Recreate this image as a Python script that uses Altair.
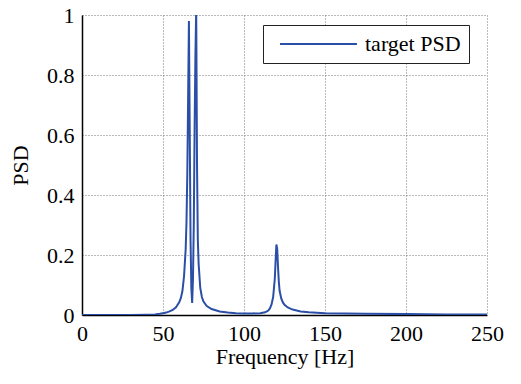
import altair as alt
import pandas as pd

freq = [0, 30, 40, 45, 48, 50, 52, 54, 56, 58, 60, 61, 62, 63, 64, 64.5, 65, 65.5,
        66, 66.5, 67, 67.5, 68, 68.5, 69, 69.5, 70, 70.5, 71, 71.5, 72, 73, 74, 75,
        77, 80, 85, 90, 95, 100, 105, 110, 113, 115, 116, 117, 118, 119, 119.5, 120,
        120.5, 121, 121.5, 122, 123, 124, 125, 127, 130, 135, 140, 150, 175, 200, 225, 250]
psd = [0, 0, 0.001, 0.002, 0.004, 0.006, 0.008, 0.012, 0.017, 0.026, 0.042, 0.056, 0.08,
       0.13, 0.22, 0.31, 0.47, 0.72, 0.98, 0.62, 0.25, 0.09, 0.04, 0.12, 0.3, 0.62, 0.86,
       1.02, 0.5, 0.25, 0.17, 0.09, 0.06, 0.045, 0.03, 0.02, 0.012, 0.008, 0.006, 0.005,
       0.005, 0.006, 0.009, 0.015, 0.022, 0.035, 0.06, 0.12, 0.18, 0.235, 0.22, 0.16, 0.11,
       0.08, 0.055, 0.042, 0.034, 0.025, 0.018, 0.012, 0.009, 0.006, 0.004, 0.003, 0.002, 0.002]
series = ["target PSD"] * len(freq)

df = pd.DataFrame({"f": freq, "psd": psd, "s": series})

font = "'Times New Roman', 'Liberation Serif', 'DejaVu Serif', serif"
fs = 22

axis_common = dict(labelFontSize=fs, titleFontSize=fs, labelFont=font, titleFont=font,
                   titleFontWeight="normal", labelColor="black", titleColor="black",
                   domainColor="black", domainWidth=1.5, ticks=False, labelFlush=False,
                   gridDash=[1, 2], gridColor="#777", gridOpacity=1)

chart = alt.Chart(df).mark_line(strokeWidth=2, clip=True).encode(
    x=alt.X("f:Q", title="Frequency [Hz]",
            scale=alt.Scale(domain=[0, 250], nice=False),
            axis=alt.Axis(values=[0, 50, 100, 150, 200, 250], labelPadding=8,
                          titlePadding=2, **axis_common)),
    y=alt.Y("psd:Q", title="PSD",
            scale=alt.Scale(domain=[0, 1], nice=False),
            axis=alt.Axis(values=[0, 0.2, 0.4, 0.6, 0.8, 1], format="~g",
                          labelPadding=8, titlePadding=14, **axis_common)),
    color=alt.Color("s:N", scale=alt.Scale(range=["#2b4fa6"]),
                    legend=alt.Legend(title=None, orient="none", legendX=181, legendY=10,
                                      symbolType="M-0.22,0H8.33", symbolSize=324,
                                      symbolStrokeWidth=2, labelOffset=72,
                                      labelFont=font, labelFontSize=fs,
                                      labelColor="black", strokeColor="#222",
                                      fillColor="white", padding=8))
).properties(
    width=405, height=300,
    autosize=alt.AutoSizeParams(type="none"),
    padding={"left": 74, "top": 7, "right": 26, "bottom": 61},
).configure_view(stroke=None)

chart.save("out.html", embed_options={"renderer": "svg", "actions": False})
